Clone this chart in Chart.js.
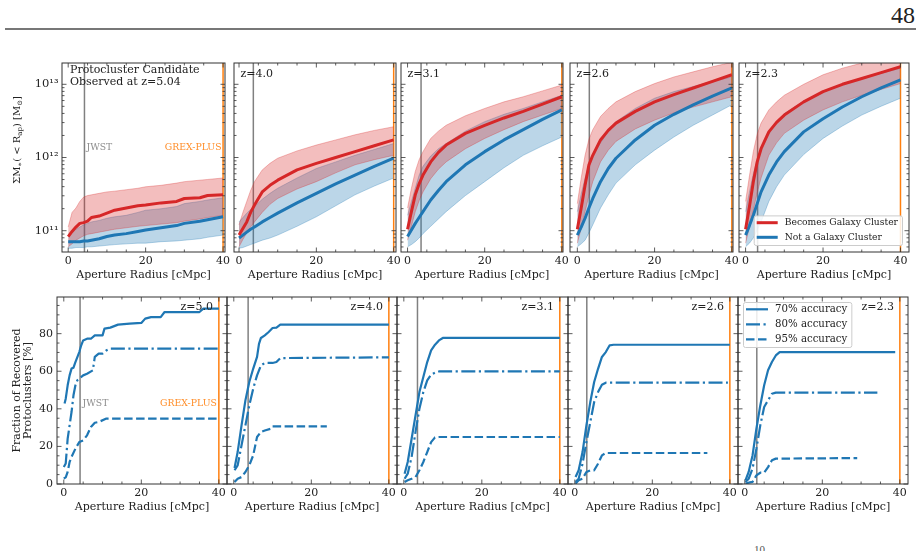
<!DOCTYPE html>
<html>
<head>
<meta charset="utf-8">
<title>Protocluster stellar mass and recovery fraction</title>
<script src="https://cdn.jsdelivr.net/npm/chart.js@4.4.1/dist/chart.umd.min.js"></script>
<style>
  html, body { margin: 0; background: #fff; }
  #page { position: relative; width: 921px; height: 551px; overflow: hidden; background: #fff; }
  #page canvas { position: absolute; }
  #pageNum { position: absolute; right: 6px; top: 2px; font: 24px 'Liberation Serif', serif; color: #222; }
  #rule { position: absolute; left: 5px; top: 28px; width: 911px; height: 2px; background: #777; }
  #stray { position: absolute; left: 754px; top: 543px; font: 11px 'Liberation Serif', serif; color: #555; }
</style>
</head>
<body>
<div id="page">
  <div id="pageNum">48</div>
  <div id="rule"></div>
  <div id="stray">10</div>
</div>
<script>
// panel captions
const topLabels = [['Protocluster Candidate', 'Observed at z=5.04'], ['z=4.0'], ['z=3.1'], ['z=2.6'], ['z=2.3']];
const bottomLabels = ['z=5.0', 'z=4.0', 'z=3.1', 'z=2.6', 'z=2.3'];

// field of view radius of each instrument [cMpc]
const jwstRadius = [4.2, 3.7, 3.5, 3.1, 3.1];
const grexRadius = [40, 40, 40, 40, 40];

// ticks
const radiusTicks = [0, 20, 40];
const radiusMinor = [5, 10, 15, 25, 30, 35];
const massTicks = [1e11, 1e12, 1e13];
const massTickLabels = ['10¹¹', '10¹²', '10¹³'];
const fracTicks = [0, 20, 40, 60, 80];

// top row: aperture radius [cMpc] and log10 of summed stellar mass [Msun]
const radiusZ504 = [0, 1, 2, 3, 4, 5, 6, 8, 10, 12, 15, 18, 20, 24, 28, 30, 34, 36, 40];
const radiusGrid = [0, 1, 2, 3, 4, 6, 8, 10, 15, 20, 25, 30, 35, 40];

const clusterMedian = [
  [10.92, 10.99, 11.05, 11.10, 11.11, 11.13, 11.18, 11.20, 11.24, 11.28, 11.31, 11.34, 11.35, 11.38, 11.40, 11.44, 11.45, 11.48, 11.49],
  [10.94, 11.03, 11.12, 11.25, 11.35, 11.53, 11.62, 11.69, 11.83, 11.92, 12.00, 12.08, 12.16, 12.24],
  [11.02, 11.26, 11.49, 11.64, 11.76, 11.94, 12.07, 12.17, 12.33, 12.44, 12.54, 12.63, 12.73, 12.83],
  [11.02, 11.31, 11.62, 11.90, 12.03, 12.24, 12.37, 12.47, 12.63, 12.76, 12.86, 12.95, 13.04, 13.13],
  [11.02, 11.33, 11.67, 11.94, 12.12, 12.35, 12.48, 12.58, 12.76, 12.90, 13.00, 13.08, 13.16, 13.24]
];
const clusterUpper = [
  [11.05, 11.25, 11.31, 11.40, 11.46, 11.48, 11.49, 11.51, 11.53, 11.54, 11.56, 11.58, 11.60, 11.62, 11.65, 11.67, 11.69, 11.70, 11.72],
  [11.08, 11.25, 11.40, 11.55, 11.67, 11.83, 11.92, 11.99, 12.09, 12.17, 12.24, 12.31, 12.37, 12.42],
  [11.31, 11.58, 11.81, 11.97, 12.08, 12.26, 12.36, 12.44, 12.57, 12.67, 12.76, 12.83, 12.91, 12.99],
  [11.37, 11.72, 12.03, 12.25, 12.38, 12.56, 12.67, 12.76, 12.90, 13.01, 13.10, 13.17, 13.24, 13.30],
  [11.40, 11.75, 12.08, 12.32, 12.47, 12.65, 12.76, 12.85, 13.00, 13.13, 13.22, 13.29, 13.35, 13.40]
];
const clusterLower = [
  [10.78, 10.82, 10.87, 10.90, 10.93, 10.95, 10.96, 10.98, 11.00, 11.02, 11.04, 11.06, 11.07, 11.09, 11.11, 11.13, 11.16, 11.18, 11.21],
  [10.78, 10.88, 10.97, 11.05, 11.12, 11.25, 11.36, 11.44, 11.57, 11.67, 11.79, 11.90, 11.97, 12.03],
  [10.87, 11.06, 11.26, 11.41, 11.53, 11.71, 11.84, 11.94, 12.12, 12.26, 12.38, 12.49, 12.58, 12.67],
  [10.83, 11.03, 11.26, 11.48, 11.67, 11.94, 12.10, 12.22, 12.39, 12.51, 12.61, 12.69, 12.76, 12.83],
  [10.83, 11.05, 11.28, 11.52, 11.72, 12.03, 12.20, 12.33, 12.51, 12.65, 12.76, 12.85, 12.93, 13.01]
];
const fieldMedian = [
  [10.85, 10.85, 10.85, 10.85, 10.86, 10.86, 10.87, 10.89, 10.92, 10.94, 10.96, 10.99, 11.01, 11.04, 11.07, 11.10, 11.13, 11.15, 11.19],
  [10.90, 10.94, 10.98, 11.02, 11.05, 11.12, 11.18, 11.24, 11.38, 11.51, 11.64, 11.76, 11.88, 11.99],
  [10.92, 11.01, 11.10, 11.18, 11.26, 11.42, 11.55, 11.67, 11.90, 12.08, 12.24, 12.38, 12.52, 12.65],
  [10.94, 11.05, 11.17, 11.31, 11.44, 11.67, 11.85, 11.99, 12.24, 12.44, 12.59, 12.72, 12.84, 12.95],
  [10.94, 11.07, 11.21, 11.37, 11.53, 11.76, 11.94, 12.08, 12.35, 12.53, 12.69, 12.83, 12.95, 13.06]
];
const fieldUpper = [
  [10.95, 10.98, 11.02, 11.05, 11.08, 11.10, 11.12, 11.14, 11.17, 11.19, 11.21, 11.25, 11.28, 11.30, 11.33, 11.37, 11.40, 11.42, 11.45],
  [11.12, 11.18, 11.24, 11.29, 11.33, 11.43, 11.51, 11.58, 11.72, 11.85, 11.94, 12.03, 12.11, 12.19],
  [11.21, 11.40, 11.58, 11.76, 11.88, 12.02, 12.12, 12.19, 12.36, 12.49, 12.59, 12.67, 12.76, 12.85],
  [11.26, 11.50, 11.72, 11.90, 12.03, 12.20, 12.36, 12.49, 12.67, 12.81, 12.90, 12.97, 13.04, 13.10],
  [11.26, 11.53, 11.78, 11.97, 12.12, 12.32, 12.48, 12.60, 12.77, 12.90, 13.00, 13.08, 13.15, 13.22]
];
const fieldLower = [
  [10.76, 10.76, 10.77, 10.77, 10.77, 10.78, 10.78, 10.79, 10.80, 10.81, 10.82, 10.83, 10.83, 10.85, 10.86, 10.87, 10.89, 10.91, 10.94],
  [10.76, 10.77, 10.79, 10.81, 10.83, 10.87, 10.90, 10.94, 11.06, 11.19, 11.34, 11.49, 11.61, 11.72],
  [10.78, 10.81, 10.85, 10.90, 10.96, 11.06, 11.16, 11.26, 11.48, 11.67, 11.86, 12.03, 12.16, 12.28],
  [10.78, 10.82, 10.87, 10.97, 11.08, 11.31, 11.49, 11.65, 11.90, 12.10, 12.28, 12.44, 12.58, 12.72],
  [10.78, 10.83, 10.90, 11.01, 11.12, 11.40, 11.60, 11.76, 12.04, 12.26, 12.43, 12.58, 12.70, 12.81]
];

// bottom row: fraction of recovered protoclusters [%] vs aperture radius [cMpc]
const acc70Radius = [
  [0.2, 0.5, 1, 1.5, 2, 2.5, 3, 4, 4.5, 5, 6, 7, 8, 10, 10.5, 12, 14, 17, 20, 21, 22.5, 25, 26, 35, 36, 40],
  [0.2, 1, 2, 3, 4, 5, 6, 6.5, 7, 8, 9, 10, 11, 12, 40],
  [0.2, 1, 2, 3, 4, 5, 6, 7, 8, 9, 10, 40],
  [0.2, 1, 2, 3, 4, 5, 6, 7, 8, 9, 10, 40],
  [0.2, 1, 2, 3, 4, 5, 6, 7, 8, 9, 38.8]
];
const acc70Frac = [
  [42.8, 45.4, 52.5, 57.8, 61.4, 61.9, 64.9, 70.2, 73.8, 76.4, 77.3, 77.3, 79.1, 79.1, 82.7, 83.2, 84.8, 85.3, 85.7, 88.0, 88.8, 88.8, 91.5, 91.5, 93.3, 93.3],
  [8.5, 17.0, 31.2, 44.5, 54.3, 61.3, 67.6, 74.6, 77.7, 79.1, 80.9, 83.0, 83.2, 84.8, 84.8],
  [5.5, 11.7, 24.1, 36.5, 48.9, 56.9, 64.9, 71.1, 74.1, 76.4, 77.7, 77.7],
  [3.7, 7.3, 17.0, 31.2, 43.6, 54.3, 61.3, 67.6, 70.2, 73.8, 74.1, 74.1],
  [2.0, 6.4, 15.2, 29.4, 41.8, 52.5, 60.5, 64.9, 68.4, 70.2, 70.2]
];
const acc80Radius = [
  [0, 0.5, 1, 1.5, 2, 2.5, 3, 3.5, 4, 5, 6, 7.5, 8, 9, 10, 11, 12, 40],
  [0.2, 1, 2, 3, 4, 5, 6, 7, 8, 10, 11, 12, 40],
  [0.2, 1, 2, 3, 4, 5, 6, 7, 8, 9, 40],
  [0.2, 1, 2, 3, 4, 5, 6, 7, 8, 39.5],
  [0.2, 1, 2, 3, 4, 5, 6, 7, 8, 34.2]
];
const acc80Frac = [
  [9.0, 10.9, 24.1, 31.2, 38.3, 47.2, 52.5, 55.2, 56.1, 57.8, 58.7, 60.5, 67.6, 69.4, 69.4, 71.1, 72.0, 72.0],
  [7.3, 9.9, 20.6, 31.2, 41.8, 50.7, 57.8, 63.1, 64.4, 64.4, 64.9, 67.0, 67.4],
  [2.8, 5.5, 14.4, 27.7, 40.1, 48.9, 55.1, 58.2, 59.2, 59.9, 59.9],
  [1.1, 2.8, 10.8, 22.3, 33.0, 43.6, 48.9, 52.8, 53.9, 53.9],
  [1.1, 2.8, 8.2, 18.8, 31.2, 41.0, 44.5, 48.0, 48.6, 48.6]
];
const acc95Radius = [
  [0, 0.5, 1, 1.5, 2, 3, 4, 5, 6, 7, 8, 9, 11, 40],
  [0.2, 1, 2, 3, 4, 5, 6, 7, 8, 9.5, 10, 24],
  [0.2, 1, 2, 3, 4, 5, 6, 7, 8, 9, 40],
  [0.2, 1, 2, 3, 4, 5, 6, 7, 8, 34.2],
  [0.2, 1, 2, 3, 4, 5, 6, 7, 8, 29]
];
const acc95Frac = [
  [2.9, 3.5, 6.4, 11.7, 14.4, 18.8, 22.3, 23.2, 25.9, 30.3, 32.6, 33.0, 34.8, 34.8],
  [1.1, 2.8, 3.7, 6.4, 9.9, 15.2, 25.0, 27.7, 28.5, 29.4, 30.7, 30.7],
  [1.1, 2.0, 2.8, 3.7, 7.3, 11.7, 17.0, 22.3, 24.8, 25.0, 25.0],
  [0.2, 2.0, 2.8, 6.4, 7.3, 7.3, 10.8, 15.2, 16.5, 16.5],
  [0.2, 0.7, 1.1, 4.6, 6.0, 6.0, 9.0, 12.6, 13.5, 13.8]
];

// layout
const SERIF = "'DejaVu Serif', serif";
const INK = '#222222';
const RED = '#d62728', BLUE = '#1f77b4';
const RED_BAND = 'rgba(214, 39, 40, 0.3)', BLUE_BAND = 'rgba(31, 119, 180, 0.3)';
const topBoxes = [[62, 225], [234, 396], [401, 563], [570, 733], [739, 909]];
const topXRange = [[-1.6, 40.5], [-1.3, 40.6], [-1.7, 40.3], [-1.9, 40.3], [-1.7, 42.2]];
const bottomBoxes = [[57, 227], [227, 397], [397, 568], [568, 738], [738, 908]];
const rows = {top: {T: 63, B: 252}, bottom: {T: 297, B: 484}};
const LABEL = 11;

const massAxisTitle = [
  {t: 'ΣM'}, {t: '∗', sub: true}, {t: '( < R'}, {t: 'ap', sub: true},
  {t: ') [M'}, {t: '⊙', sub: true}, {t: ']'}
];

// minor ticks
const massMinor = [];
for (let e = 10; e <= 13; e++) for (let d = 2; d <= 9; d++) massMinor.push(d * 10 ** e);
const fracMinor = [];
for (let v = 5; v < 100; v += 5) if (v % 20) fracMinor.push(v);

function drawMathLabel(ctx, cx, cy, parts) {
  ctx.save();
  ctx.translate(cx, cy);
  ctx.rotate(-Math.PI / 2);
  const fontFor = p => (p.sub ? '7px ' : '10px ') + SERIF;
  let total = 0;
  const widths = parts.map(p => {
    ctx.font = fontFor(p);
    const w = ctx.measureText(p.t).width;
    total += w;
    return w;
  });
  let px = -total / 2;
  ctx.fillStyle = INK;
  ctx.textBaseline = 'middle';
  ctx.textAlign = 'left';
  parts.forEach((p, k) => {
    ctx.font = fontFor(p);
    ctx.fillText(p.t, px, p.sub ? 2.5 : 0);
    px += widths[k];
  });
  ctx.restore();
}

function drawLegend(ctx, a, lg) {
  ctx.save();
  ctx.font = lg.size + 'px ' + SERIF;
  const tw = Math.max(...lg.items.map(it => ctx.measureText(it.text).width));
  const w = 3 + lg.handle + 7 + tw + 4;
  const h = (lg.items.length - 1) * lg.row + 15;
  const x0 = lg.corner === 'lr' ? a.right - lg.dx - w : a.left + lg.dx;
  const y0 = lg.corner === 'lr' ? a.bottom - lg.dy - h : a.top + lg.dy;
  ctx.fillStyle = 'rgba(255,255,255,0.85)';
  ctx.strokeStyle = '#cccccc';
  ctx.lineWidth = 1;
  ctx.beginPath();
  ctx.roundRect(x0 + 0.5, y0 + 0.5, w, h, 2);
  ctx.fill();
  ctx.stroke();
  ctx.textBaseline = 'middle';
  ctx.textAlign = 'left';
  lg.items.forEach((it, k) => {
    const yy = y0 + 7.3 + lg.row * k;
    ctx.strokeStyle = it.color;
    ctx.lineWidth = it.width;
    ctx.setLineDash(it.dash);
    ctx.beginPath();
    ctx.moveTo(x0 + 3, yy);
    ctx.lineTo(x0 + 3 + lg.handle, yy);
    ctx.stroke();
    ctx.setLineDash([]);
    ctx.fillStyle = INK;
    ctx.fillText(it.text, x0 + 3 + lg.handle + 7, yy);
  });
  ctx.restore();
}

// frame, inward ticks, instrument lines, captions
function decor(cfg) {
  return {
    id: 'decor',
    beforeDatasetsDraw(chart) {
      const {ctx, chartArea: a, scales: {x}} = chart;
      ctx.save();
      ctx.beginPath();
      ctx.rect(a.left, a.top, a.width, a.height);
      ctx.clip();
      ctx.lineWidth = 1.5;
      [[cfg.jwst, '#808080'], [cfg.grex, '#ff7f0e']].forEach(([v, col]) => {
        const px = x.getPixelForValue(v);
        ctx.strokeStyle = col;
        ctx.beginPath();
        ctx.moveTo(px, a.top);
        ctx.lineTo(px, a.bottom);
        ctx.stroke();
      });
      ctx.restore();
    },
    afterDatasetsDraw(chart) {
      const {ctx, chartArea: a, scales: {x, y}} = chart;
      ctx.save();
      ctx.strokeStyle = '#333';
      ctx.lineWidth = 0.8;
      ctx.beginPath();
      const tickX = (vals, len) => vals.forEach(v => {
        const p = x.getPixelForValue(v);
        ctx.moveTo(p, a.bottom); ctx.lineTo(p, a.bottom - len);
        ctx.moveTo(p, a.top); ctx.lineTo(p, a.top + len);
      });
      const tickY = (vals, len) => vals.forEach(v => {
        if (v < y.min || v > y.max) return;
        const p = y.getPixelForValue(v);
        ctx.moveTo(a.left, p); ctx.lineTo(a.left + len, p);
        ctx.moveTo(a.right, p); ctx.lineTo(a.right - len, p);
      });
      tickX(radiusTicks, 4.5);
      tickX(radiusMinor, 2.5);
      tickY(cfg.yMajor, 4.5);
      tickY(cfg.yMinor, 2.5);
      ctx.stroke();
      ctx.lineWidth = 1;
      ctx.strokeRect(a.left, a.top, a.width, a.height);

      ctx.textBaseline = 'middle';
      cfg.texts.forEach(t => {
        ctx.font = t.size + 'px ' + SERIF;
        ctx.fillStyle = t.color || INK;
        ctx.textAlign = t.align;
        let px;
        if (t.at === 'jwst') px = x.getPixelForValue(cfg.jwst) + t.dx;
        else if (t.at === 'grex') px = x.getPixelForValue(cfg.grex) + t.dx;
        else if (t.at === 'right') px = a.right + t.dx;
        else px = a.left + t.dx;
        ctx.fillText(t.text, px, a.top + t.dy);
      });
      if (cfg.yTitle) drawMathLabel(ctx, 17.5, 140 - cfg.oy, cfg.yTitle);
      if (cfg.legend) drawLegend(ctx, a, cfg.legend);
      ctx.restore();
    }
  };
}

const page = document.getElementById('page');
const pts = (r, v, log) => r.map((rr, k) => ({x: rr, y: log ? 10 ** v[k] : v[k]}));

function makePanel(row, i) {
  const isTop = row === 'top';
  const {T, B} = rows[row];
  const [L, R] = isTop ? topBoxes[i] : bottomBoxes[i];
  const xr = isTop ? topXRange[i] : [-1.75, 42.1];
  const first = i === 0;
  const ox = first ? 0 : L - 10;
  const oy = T - 10;
  const canvas = document.createElement('canvas');
  canvas.width = R + 12 - ox;
  canvas.height = B - T + 10 + 30;
  canvas.style.left = ox + 'px';
  canvas.style.top = oy + 'px';
  page.appendChild(canvas);

  const yFit = s => { s.width = L - ox; s.paddingTop = 0; s.paddingBottom = 0; };
  const gray = 'rgba(128,128,128,0.9)', orange = 'rgba(255,127,14,0.9)';
  let datasets, yScale, texts = [], legend = null;
  if (isTop) {
    const r = first ? radiusZ504 : radiusGrid;
    datasets = [
      {data: pts(r, clusterMedian[i], true), borderColor: RED, borderWidth: 3, order: 0},
      {data: pts(r, fieldMedian[i], true), borderColor: BLUE, borderWidth: 3, order: 1},
      {data: pts(r, clusterUpper[i], true), borderColor: RED_BAND, borderWidth: 1, backgroundColor: RED_BAND, fill: 3, order: 2},
      {data: pts(r, clusterLower[i], true), borderColor: RED_BAND, borderWidth: 1, order: 3},
      {data: pts(r, fieldUpper[i], true), borderColor: BLUE_BAND, borderWidth: 1, backgroundColor: BLUE_BAND, fill: 5, order: 4},
      {data: pts(r, fieldLower[i], true), borderColor: BLUE_BAND, borderWidth: 1, order: 5}
    ];
    yScale = {
      type: 'logarithmic', min: 10 ** 10.709, max: 10 ** 13.291,
      grid: {display: false, drawTicks: false}, border: {display: false},
      ticks: {display: first, font: {family: SERIF, size: 11.5}, color: INK, padding: 3.5, callback: (v, k) => massTickLabels[k]},
      afterBuildTicks: s => { s.ticks = massTicks.map(v => ({value: v})); },
      afterFit: yFit
    };
    if (first) {
      texts.push({text: topLabels[0][0], at: 'left', dx: 8, dy: 7.5, align: 'left', size: LABEL});
      texts.push({text: topLabels[0][1], at: 'left', dx: 8, dy: 19, align: 'left', size: LABEL});
      texts.push({text: 'JWST', at: 'jwst', dx: 2, dy: 85, align: 'left', size: 9.3, color: gray});
      texts.push({text: 'GREX-PLUS', at: 'grex', dx: -1.5, dy: 85, align: 'right', size: 9.3, color: orange});
    } else {
      texts.push({text: topLabels[i][0], at: 'left', dx: 6.5, dy: 11.5, align: 'left', size: LABEL});
    }
    if (i === 4) {
      legend = {corner: 'lr', dx: 7, dy: 7, size: 9.2, row: 14.6, handle: 21, items: [
        {text: 'Becomes Galaxy Cluster', color: RED, width: 3, dash: []},
        {text: 'Not a Galaxy Cluster', color: BLUE, width: 3, dash: []}
      ]};
    }
  } else {
    const lw = 2.2;
    datasets = [
      {data: pts(acc70Radius[i], acc70Frac[i]), borderColor: BLUE, borderWidth: lw, order: 0},
      {data: pts(acc80Radius[i], acc80Frac[i]), borderColor: BLUE, borderWidth: lw, borderDash: [14, 3.5, 2.2, 3.5], order: 1},
      {data: pts(acc95Radius[i], acc95Frac[i]), borderColor: BLUE, borderWidth: lw, borderDash: [8.5, 3.5], order: 2}
    ];
    yScale = {
      type: 'linear', min: 0, max: 99.5,
      grid: {display: false, drawTicks: false}, border: {display: false},
      ticks: {display: first, font: {family: SERIF, size: 11}, color: INK, padding: 4, callback: v => String(v)},
      afterBuildTicks: s => { s.ticks = fracTicks.map(v => ({value: v})); },
      afterFit: yFit,
      title: {display: first, text: ['Fraction of Recovered', 'Protoclusters [%]'], color: INK,
        font: {family: SERIF, size: LABEL, lineHeight: 1.05}, padding: {top: 11.2, bottom: 0}}
    };
    texts.push({text: bottomLabels[i], at: 'right', dx: -14, dy: 10.5, align: 'right', size: LABEL});
    if (first) {
      texts.push({text: 'JWST', at: 'jwst', dx: 2.5, dy: 107, align: 'left', size: 9.3, color: gray});
      texts.push({text: 'GREX-PLUS', at: 'grex', dx: -2, dy: 107, align: 'right', size: 9.3, color: orange});
    }
    if (i === 4) {
      legend = {corner: 'ul', dx: 5, dy: 5, size: 10.2, row: 15, handle: 22, items: [
        {text: '70% accuracy', color: BLUE, width: lw, dash: []},
        {text: '80% accuracy', color: BLUE, width: lw, dash: [14, 3.5, 2.2, 3.5]},
        {text: '95% accuracy', color: BLUE, width: lw, dash: [8.5, 3.5]}
      ]};
    }
  }

  datasets.forEach(d => {
    d.pointRadius = 0;
    d.tension = 0;
    d.borderCapStyle = 'butt';
    d.borderJoinStyle = 'round';
    if (d.fill === undefined) d.fill = false;
  });

  const cfg = {
    jwst: jwstRadius[i], grex: grexRadius[i], oy, texts, legend,
    yMajor: isTop ? massTicks : fracTicks,
    yMinor: isTop ? massMinor : fracMinor,
    yTitle: isTop && first ? massAxisTitle : null
  };

  return new Chart(canvas, {
    type: 'line',
    data: {datasets},
    options: {
      responsive: false, animation: false, devicePixelRatio: 1, events: [],
      layout: {padding: {left: 0, right: 12, top: 10, bottom: 0}},
      plugins: {legend: {display: false}, tooltip: {enabled: false}},
      scales: {
        x: {
          type: 'linear', min: xr[0], max: xr[1],
          grid: {display: false, drawTicks: false}, border: {display: false},
          ticks: {font: {family: SERIF, size: 11}, color: INK, padding: 3, maxRotation: 0, callback: v => String(v)},
          afterBuildTicks: s => { s.ticks = radiusTicks.map(v => ({value: v})); },
          afterFit: s => { s.height = 30; s.paddingLeft = 0; s.paddingRight = 0; },
          title: {display: true, text: 'Aperture Radius [cMpc]', color: INK,
            font: {family: SERIF, size: LABEL, lineHeight: 1.2}, padding: {top: 0, bottom: 0.4}}
        },
        y: yScale
      }
    },
    plugins: [decor(cfg)]
  });
}

for (let i = 0; i < 5; i++) makePanel('top', i);
for (let i = 0; i < 5; i++) makePanel('bottom', i);
</script>
</body>
</html>
